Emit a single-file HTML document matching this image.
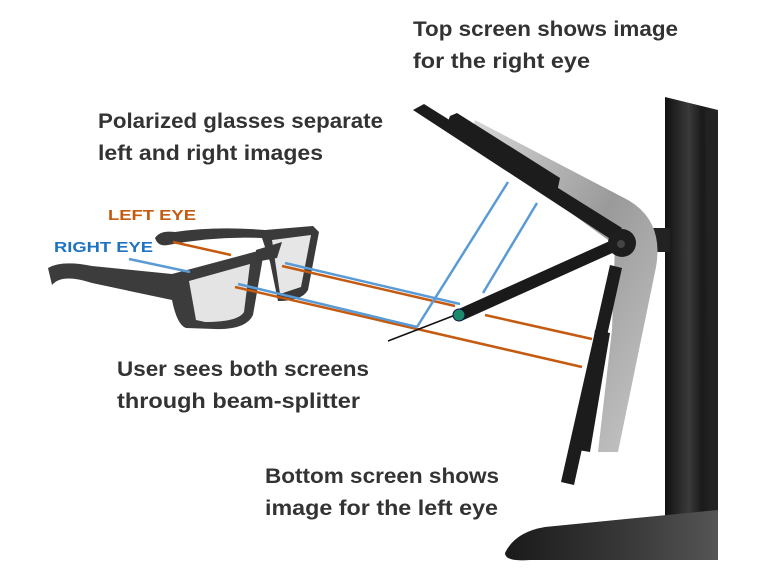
<!DOCTYPE html>
<html><head><meta charset="utf-8"><style>
html,body{margin:0;padding:0;background:#fff;}
svg{display:block}
text{font-family:"Liberation Sans",sans-serif;font-weight:bold}
</style></head><body>
<svg width="768" height="572" viewBox="0 0 768 572" xmlns="http://www.w3.org/2000/svg">
<defs>
<linearGradient id="col" x1="0" x2="1" y1="0" y2="0">
<stop offset="0" stop-color="#111"/><stop offset="0.45" stop-color="#3a3a3a"/><stop offset="0.7" stop-color="#1a1a1a"/><stop offset="1" stop-color="#2a2a2a"/>
</linearGradient>
<linearGradient id="silver" x1="0" x2="1" y1="0" y2="1">
<stop offset="0" stop-color="#d8d8d8"/><stop offset="0.5" stop-color="#9a9a9a"/><stop offset="1" stop-color="#c8c8c8"/>
</linearGradient>
<linearGradient id="base" x1="0" x2="1" y1="0" y2="0">
<stop offset="0" stop-color="#1a1a1a"/><stop offset="0.6" stop-color="#3a3a3a"/><stop offset="1" stop-color="#555"/>
</linearGradient>
</defs>

<text x="413" y="36" font-size="21" fill="#333" textLength="265" lengthAdjust="spacingAndGlyphs">Top screen shows image</text>
<text x="413" y="68" font-size="21" fill="#333" textLength="177" lengthAdjust="spacingAndGlyphs">for the right eye</text>
<text x="98" y="128" font-size="21" fill="#333" textLength="285" lengthAdjust="spacingAndGlyphs">Polarized glasses separate</text>
<text x="98" y="160" font-size="21" fill="#333" textLength="225" lengthAdjust="spacingAndGlyphs">left and right images</text>
<text x="117" y="376" font-size="21" fill="#333" textLength="252" lengthAdjust="spacingAndGlyphs">User sees both screens</text>
<text x="117" y="408" font-size="21" fill="#333" textLength="243" lengthAdjust="spacingAndGlyphs">through beam-splitter</text>
<text x="265" y="483" font-size="21" fill="#333" textLength="234" lengthAdjust="spacingAndGlyphs">Bottom screen shows</text>
<text x="265" y="515" font-size="21" fill="#333" textLength="233" lengthAdjust="spacingAndGlyphs">image for the left eye</text>
<text x="108" y="220" font-size="15" fill="#c55a11" textLength="88" lengthAdjust="spacingAndGlyphs">LEFT EYE</text>
<text x="54" y="252" font-size="15" fill="#1f74c1" textLength="99" lengthAdjust="spacingAndGlyphs">RIGHT EYE</text>

<!-- stand column -->
<path d="M665,97 L718,110 L718,545 L665,545 Z" fill="url(#col)"/>
<path d="M705,110 L718,112 L718,545 L712,545 Z" fill="#222"/>
<path d="M505,553 Q515,532 545,527 L718,510 L718,560 L530,560 Q505,562 505,553 Z" fill="url(#base)"/>
<rect x="640" y="228" width="30" height="24" fill="#222"/>

<!-- silver panel -->
<path d="M475,120 L628,200 Q666,222 655,272 L618,452 L598,452 L612,330 L615,245 L470,140 Z" fill="url(#silver)"/>
<!-- top screen -->
<path d="M413,110 L424,104 L622,228 L612,240 Z" fill="#1c1c1c"/>
<path d="M450,116 L457,113 L560,178 L556,197 L445,130 Z" fill="#1c1c1c"/>
<!-- bottom screen -->
<path d="M610,265 L622,268 L574,485 L561,482 Z" fill="#1c1c1c"/>
<path d="M595,330 L610,333 L590,452 L578,450 Z" fill="#1c1c1c"/>

<!-- arm -->
<line x1="460" y1="315" x2="620" y2="243" stroke="#1a1a1a" stroke-width="12" stroke-linecap="round"/>
<circle cx="622" cy="243" r="14" fill="#1e1e1e"/>
<circle cx="621" cy="244" r="4" fill="#444"/>

<!-- glasses: back temple & far lens -->
<path d="M155,238 Q160,230 175,232 Q215,226 265,230 L313,226 L319,232 L308,290 Q302,301 278,301 L270,262 L262,238 Q215,236 168,245 Q158,247 155,238 Z" fill="#3a3a3a"/>
<path d="M272,240 L311,235 L301,287 L280,294 Z" fill="#e6e6e6"/>
<!-- front temple + front frame -->
<path d="M48,268 Q62,260 92,266 L172,274 L258,251 L263,257 L253,315 Q246,330 215,329 L186,328 Q177,325 172,300 L92,283 Q62,273 52,285 Z" fill="#3c3c3c"/>
<path d="M189,281 L250,264 L244,312 Q238,322 205,322 L196,320 Z" fill="#e4e4e4"/>
<path d="M256,250 L282,242 L277,258 L255,262 Z" fill="#3a3a3a"/>

<g stroke-width="2.5" fill="none">
<line x1="173" y1="242" x2="231" y2="255" stroke="#c55a11"/>
<line x1="282" y1="266" x2="455" y2="306" stroke="#c55a11"/>
<line x1="485" y1="315" x2="592" y2="339" stroke="#c55a11"/>
<line x1="235" y1="287" x2="582" y2="367" stroke="#c55a11"/>
<line x1="129" y1="259" x2="190" y2="272" stroke="#5b9bd5"/>
<line x1="238" y1="284" x2="417" y2="327" stroke="#5b9bd5"/>
<line x1="285" y1="263" x2="460" y2="304" stroke="#5b9bd5"/>
<line x1="417" y1="327" x2="508" y2="182" stroke="#5b9bd5"/>
<line x1="483" y1="293" x2="537" y2="203" stroke="#5b9bd5"/>
<line x1="388" y1="341" x2="458" y2="314" stroke="#111" stroke-width="1.5"/>
</g>
<circle cx="459" cy="315" r="6" fill="#1a8a6a" stroke="#114" stroke-width="1"/>
</svg>
</body></html>
